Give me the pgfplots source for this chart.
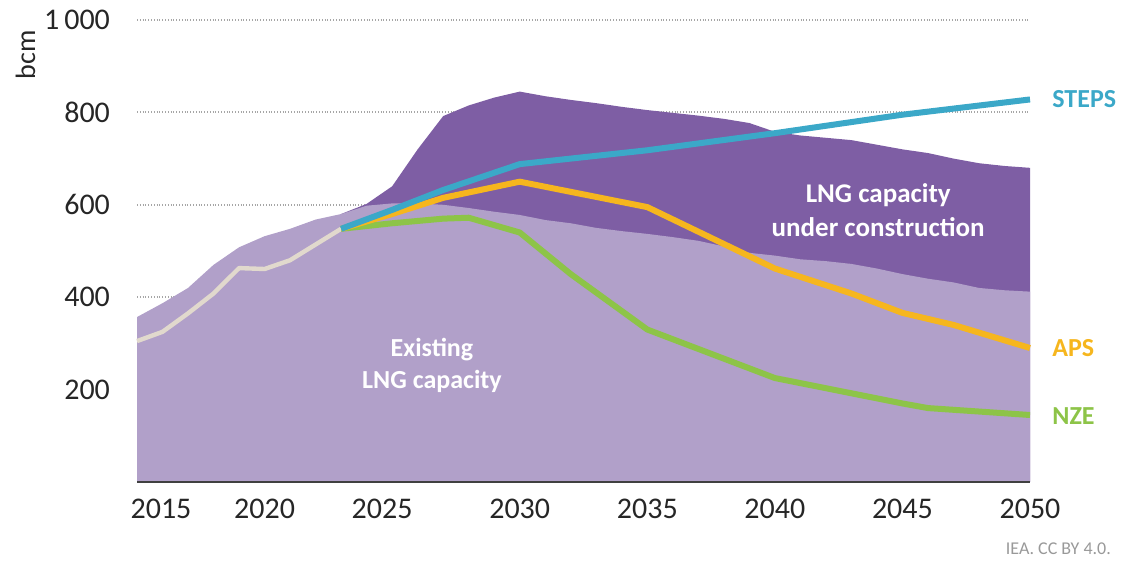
\documentclass[border=0pt]{standalone}
\usepackage{fontspec}
\setmainfont{Carlito}
\usepackage{pgfplots}
\pgfplotsset{compat=1.18}
\pgfplotsset{
  layers/gridbelow/.define layer set={
    axis background, axis grid, main, axis ticks, axis lines,
    axis tick labels, axis descriptions, axis foreground
  }{/pgfplots/layers/standard},
}

\definecolor{existing}{RGB}{177,160,201}
\definecolor{construct}{RGB}{126,94,164}
\definecolor{stepscol}{RGB}{59,168,200}
\definecolor{apscol}{RGB}{246,182,30}
\definecolor{nzecol}{RGB}{141,196,72}
\definecolor{histcol}{RGB}{225,217,205}

\begin{document}
\begin{tikzpicture}
\begin{axis}[
  set layers=gridbelow,
  scale only axis, width=446.5pt, height=231pt,
  xmin=2015, xmax=2050, ymin=0, ymax=1000,
  xtick={2015,2020,...,2050},
  xticklabels={\hspace*{24pt}2015,2020,\hspace*{-10pt}2025,2030,2035,2040,2045,2050},
  ytick={200,400,600,800,1000},
  yticklabels={200,400,600,800,1\,000},
  axis x line*=bottom, axis y line*=left,
  y axis line style={draw=none},
  x axis line style={line width=1.3pt, black!75},
  major tick length=0pt,
  ymajorgrids,
  major grid style={densely dotted, gray!70, line width=0.9pt},
  clip=false,
  /pgf/number format/assume math mode=true,
  tick label style={font=\fontsize{15}{17}\selectfont, text=black!85},
  yticklabel style={xshift=-10pt},
  xticklabel style={yshift=-5pt},
  ylabel={bcm},
  ylabel style={at={(axis description cs:-0.125,0.925)}, anchor=center, font=\fontsize{14}{16}\selectfont, text=black!85},
]
% LNG capacity under construction (top boundary of total capacity)
\addplot[draw=none, fill=construct] coordinates {
(2023,580) (2024,602) (2025,640) (2026,720) (2027,792) (2028,815) (2029,832)
(2030,845) (2031,835) (2032,827) (2033,820) (2034,812) (2035,805) (2036,799)
(2037,793) (2038,786) (2039,777) (2040,758) (2041,750) (2042,745) (2043,740)
(2044,730) (2045,720) (2046,712) (2047,700) (2048,690) (2049,684) (2050,680)
} \closedcycle;
% Existing LNG capacity
\addplot[draw=none, fill=existing] coordinates {
(2015,357) (2016,387) (2017,420) (2018,470) (2019,508) (2020,532) (2021,548)
(2022,568) (2023,580) (2024,598) (2025,603) (2026,603) (2027,600) (2028,593)
(2029,585) (2030,578) (2031,567) (2032,560) (2033,550) (2034,543) (2035,537)
(2036,530) (2037,522) (2038,510) (2039,496) (2040,490) (2041,482) (2042,478)
(2043,472) (2044,462) (2045,450) (2046,440) (2047,432) (2048,420) (2049,415)
(2050,412)
} \closedcycle;
% Historical
\addplot[color=histcol, line width=2.2pt, line join=round] coordinates {
(2015,305) (2016,325) (2017,365) (2018,408) (2019,463) (2020,461) (2021,480)
(2022,514) (2023,548)
};
% NZE
\addplot[color=nzecol, line width=3pt, line join=round] coordinates {
(2023,548) (2025,560) (2027,570) (2028,572) (2030,540) (2032,450) (2035,330)
(2040,225) (2043,192) (2045,170) (2046,160) (2050,145)
};
% APS
\addplot[color=apscol, line width=3pt, line join=round] coordinates {
(2023,548) (2025,580) (2027,615) (2030,650) (2035,595) (2040,462) (2043,408)
(2045,366) (2047,340) (2050,290)
};
% STEPS
\addplot[color=stepscol, line width=3pt, line join=round] coordinates {
(2023,548) (2025,589) (2027,632) (2030,688) (2035,718) (2040,755) (2045,795)
(2050,828)
};
\node[text=white, font=\fontsize{13}{16}\selectfont\bfseries, align=center]
  at (axis cs:2026.56,253) {Existing\\LNG capacity};
\node[text=white, font=\fontsize{13.5}{17}\selectfont\bfseries, align=center]
  at (axis cs:2044.05,589) {LNG capacity\\under construction};
\node[anchor=west, text=stepscol, font=\fontsize{13}{15}\selectfont\bfseries]
  at (axis cs:2050.6,828) {STEPS};
\node[anchor=west, text=apscol, font=\fontsize{13}{15}\selectfont\bfseries]
  at (axis cs:2050.6,290) {APS};
\node[anchor=west, text=nzecol, font=\fontsize{13}{15}\selectfont\bfseries]
  at (axis cs:2050.6,143) {NZE};
\node[anchor=east, text=gray!80, font=\fontsize{9}{11}\selectfont]
  at (axis description cs:1.0985,-0.145) {IEA. CC BY 4.0.};
\end{axis}
\pgfresetboundingbox
\path[use as bounding box] (-68.5pt,-41.5pt) rectangle (492.5pt,241pt);
\end{tikzpicture}
\end{document}
